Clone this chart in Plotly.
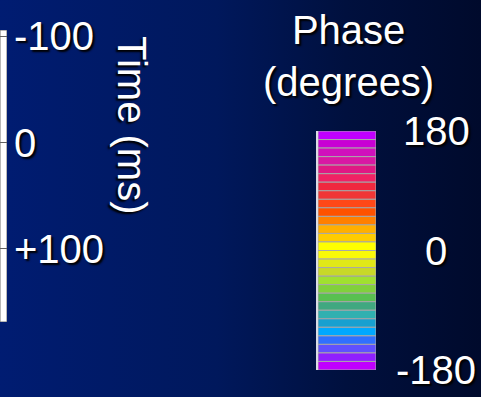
import plotly.graph_objects as go

# ---- data ----
phase_edges = [180, 167.1, 154.3, 141.4, 128.6, 115.7, 102.9, 90, 77.1, 64.3, 51.4, 38.6, 25.7, 12.9,
               0, -12.9, -25.7, -38.6, -51.4, -64.3, -77.1, -90, -102.9, -115.7, -128.6, -141.4, -154.3, -167.1, -180]
stripe_colors = ["#C000FF", "#C800D4", "#D010BC", "#D818A4", "#E01884", "#F02264", "#F0283E", "#F03636",
                 "#FF4818", "#FF5200", "#FF8000", "#FFB000", "#FFCC00", "#FFFF00",
                 "#FAFA08", "#E0E818", "#C8D828", "#A0E030", "#80D03C", "#58C050", "#40A880", "#30B0B0",
                 "#18A0D0", "#00A8FF", "#3070FF", "#6050FF", "#9020FF", "#C000FF"]
phase_ticks = [180, 0, -180]
phase_tick_text = ["180", "0", "-180"]
time_ticks = [-100, 0, 100]
time_tick_text = ["-100", "0", "+100"]
time_range = [168.7, -106]

W, H = 481, 397
FONT = "Arial, Liberation Sans, sans-serif"
SHADOW = "2px 2px 2px #000000"

fig = go.Figure()

# background gradient (subplot xy covering the paper)
fig.add_trace(go.Scatter(x=[0, 1, 1, 0, 0], y=[0, 0, 1, 1, 0], mode="lines", fill="toself",
                         line=dict(width=0), hoverinfo="skip", showlegend=False,
                         fillgradient=dict(type="horizontal",
                                           colorscale=[[0, "#001c72"], [0.45, "#00185c"],
                                                       [0.72, "#00103e"], [1, "#000a2c"]]),
                         xaxis="x", yaxis="y"))

# phase colour stripes
bottoms = phase_edges[1:]
heights = [t - b for t, b in zip(phase_edges[:-1], phase_edges[1:])]
fig.add_trace(go.Bar(x=[0] * len(heights), y=heights, base=bottoms, width=1,
                     marker=dict(color=stripe_colors, line=dict(color="#a8a8a8", width=1)),
                     showlegend=False, hoverinfo="skip", xaxis="x2", yaxis="y2"))

# white time frame
fig.add_trace(go.Bar(x=[0.5], y=[time_range[0] - time_range[1]], base=[time_range[1]], width=1,
                     marker=dict(color="white", line=dict(color="#707070", width=1)),
                     showlegend=False, hoverinfo="skip", xaxis="x3", yaxis="y3"))

# colorbar labels
for v, t in zip(phase_ticks, phase_tick_text):
    fig.add_annotation(x=436 / W, xref="paper", y=v, yref="y2", text=t, showarrow=False,
                       xanchor="center", yanchor="middle",
                       font=dict(family=FONT, size=40, color="white", shadow=SHADOW))

fig.add_annotation(x=348 / W, xref="paper", y=1 - 56 / H, yref="paper", text="Phase<br>(degrees)",
                   showarrow=False, xanchor="center", yanchor="middle",
                   font=dict(family=FONT, size=40, color="white", shadow=SHADOW))
fig.add_annotation(x=132 / W, xref="paper", y=1 - 125 / H, yref="paper", text="Time (ms)",
                   textangle=90, showarrow=False, xanchor="center", yanchor="middle",
                   font=dict(family=FONT, size=40, color="white", shadow=SHADOW))

fig.update_layout(
    width=W, height=H, margin=dict(l=0, r=0, t=0, b=0, autoexpand=False),
    paper_bgcolor="#001245", plot_bgcolor="rgba(0,0,0,0)",
    barmode="overlay", bargap=0,
    xaxis=dict(domain=[0, 1], range=[0, 1], visible=False, fixedrange=True, automargin=False),
    yaxis=dict(domain=[0, 1], range=[0, 1], visible=False, fixedrange=True, automargin=False),
    xaxis2=dict(domain=[318 / W, 376 / W], range=[-0.5, 0.5], visible=False, anchor="y2", automargin=False),
    yaxis2=dict(domain=[1 - 370 / H, 1 - 131 / H], range=[-180, 180], anchor="x2", automargin=False,
                showgrid=False, zeroline=False, showticklabels=False, ticks="",
                showline=True, linecolor="rgba(255,255,255,0.85)", linewidth=2, side="left"),
    xaxis3=dict(domain=[0, 7 / W], range=[0, 1], visible=False, anchor="y3", automargin=False),
    yaxis3=dict(domain=[1 - 322 / H, 1 - 30 / H], range=time_range, anchor="x3", side="right",
                automargin=False,
                tickvals=time_ticks, ticktext=time_tick_text, ticks="inside", ticklen=7,
                tickcolor="#606060", tickwidth=1, showgrid=False, zeroline=False, showline=False,
                ticklabelstandoff=6,
                tickfont=dict(family=FONT, size=40, color="white", shadow=SHADOW)),
)

fig.write_html("out.html", config={"displayModeBar": False, "staticPlot": True},
               post_script="document.body.style.margin='0px';")
